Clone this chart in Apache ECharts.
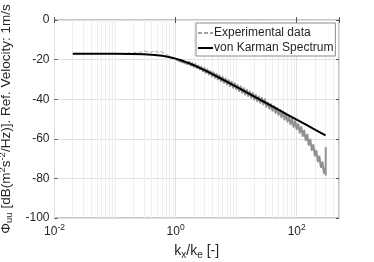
<!DOCTYPE html>
<html><head><meta charset="utf-8">
<script src="https://cdn.jsdelivr.net/npm/echarts@6/dist/echarts.min.js"></script>
<style>html,body{margin:0;padding:0;background:#fff}#c{width:374px;height:262px}</style>
</head><body><div id="c"></div>
<script>
// von Karman spectrum
const vkK = [0.02,0.05,0.1,0.2,0.3,0.4,0.5,0.6,0.7,0.8,0.9,1,1.1,1.2,1.3,1.5,2,2.5,3,4,5,7,10,20,30,50,70,100,150,200,300];
const vkDb = [-17.00,-17.01,-17.04,-17.14,-17.31,-17.54,-17.81,-18.11,-18.44,-18.79,-19.15,-19.51,-19.87,-20.23,-20.58,-21.27,-22.83,-24.17,-25.33,-27.25,-28.79,-31.16,-33.70,-38.69,-41.62,-45.32,-47.75,-50.33,-53.27,-55.35,-58.29];
// experimental data, low wavenumbers (visible dashed part)
const expLowK = [0.158,0.174,0.191,0.209,0.229,0.251,0.275,0.302,0.331,0.363,0.398,0.437,0.479,0.525,0.575,0.631,0.692,0.759,0.832,0.912,1.00];
const expLowDb = [-17.0,-16.6,-16.9,-16.5,-16.2,-16.6,-16.0,-15.6,-16.1,-15.8,-16.3,-15.5,-15.9,-16.4,-15.8,-16.6,-17.2,-17.9,-18.4,-19.2,-19.6];
// experimental data, high wavenumbers (dense noisy band)
const expHighK = [1.00,
1.06,1.12,1.19,1.26,1.33,1.41,1.50,1.58,1.68,1.78,1.88,2.00,2.11,2.24,2.37,2.51,2.66,2.82,2.99,3.16,
3.35,3.55,3.76,3.98,4.22,4.47,4.73,5.01,5.31,5.62,5.96,6.31,6.68,7.08,7.50,7.94,8.41,8.91,9.44,10.0,
10.6,11.2,11.9,12.6,13.3,14.1,15.0,15.8,16.8,17.8,18.8,20.0,21.1,22.4,23.7,25.1,26.6,28.2,29.9,31.6,
33.5,35.5,37.6,39.8,42.2,44.7,47.3,50.1,53.1,56.2,59.6,63.1,66.8,70.8,75.0,79.4,84.1,89.1,94.4,100,
106,112,119,126,133,141,150,158,168,178,188,200,211,224,237,251,266,282,299,301,302];
const expHighDb = [-19.6,
-19.1,-20.6,-19.7,-21.1,-20.1,-21.6,-20.6,-22.3,-21.1,-22.9,-21.8,-23.6,-22.3,-24.3,-23.0,-25.0,-23.6,-25.9,-24.3,-26.7,
-25.0,-27.5,-25.8,-28.4,-26.4,-29.2,-27.3,-30.0,-28.0,-30.9,-28.8,-31.7,-29.6,-32.5,-30.4,-33.4,-31.2,-34.2,-32.0,-35.0,
-32.9,-35.9,-33.6,-36.7,-34.5,-37.6,-35.3,-38.4,-36.1,-39.3,-36.9,-40.1,-37.8,-41.0,-38.6,-41.8,-39.4,-42.7,-40.1,-43.8,
-41.7,-44.8,-42.5,-45.8,-43.5,-46.9,-44.5,-47.9,-45.5,-49.1,-46.5,-50.3,-47.6,-51.4,-48.7,-52.7,-49.9,-54.0,-51.1,-55.2,
-52.5,-56.9,-54.0,-58.6,-55.8,-60.7,-57.9,-63.1,-60.4,-65.7,-63.1,-68.5,-66.0,-71.4,-68.9,-74.3,-71.8,-77.2,-74.5,-78.2,-64.3];
// axes
const xMin = 0.01, xMax = 500;
const yMin = -100, yMax = 0, yStep = 20;
const minorK = [0.02,0.03,0.04,0.05,0.06,0.07,0.08,0.09,0.1,0.2,0.3,0.4,0.5,0.6,0.7,0.8,0.9,
2,3,4,5,6,7,8,9,10,20,30,40,50,60,70,80,90,200,300,400];

const FONT = 'Liberation Sans, Arial, Helvetica, sans-serif';
const TXT = '#262626';
const EXP = '#909090';
const NONE = 'rgba(0,0,0,0)';
const chart = echarts.init(document.getElementById('c'), null, {renderer: 'canvas'});

function xFmt(v) {
  const l = Math.log10(v), e = Math.round(l);
  if (Math.abs(l - e) > 1e-6 || e % 2 !== 0) return '';
  return '10{sup|' + e + '}';
}

chart.setOption({
  animation: false,
  backgroundColor: '#fff',
  grid: {left: 54.5, right: 35, top: 20, bottom: 44, containLabel: false, outerBoundsMode: 'none',
    show: true, borderColor: '#8c8c8c', borderWidth: 1, backgroundColor: 'transparent'},
  legend: {
    orient: 'vertical', left: 196, top: 23,
    padding: [3, 2, 1, 1], itemGap: 1, itemWidth: 15, itemHeight: 12,
    borderColor: '#8c8c8c', borderWidth: 1, borderRadius: 0, backgroundColor: '#fff',
    itemStyle: {color: NONE, borderColor: NONE, borderWidth: 0, opacity: 0},
    textStyle: {fontSize: 12, lineHeight: 14, color: TXT, fontFamily: FONT, padding: [0, 0, 0, -4]},
    data: ['Experimental data', 'von Karman Spectrum']
  },
  xAxis: [{
    type: 'log', logBase: 10, min: xMin, max: xMax, interval: 2,
    name: 'k{sub|x}/k{sub|e} [-]', nameLocation: 'middle', nameGap: 25,
    nameTextStyle: {fontSize: 14, color: TXT, fontFamily: FONT,
      rich: {sub: {fontSize: 10, color: TXT, fontFamily: FONT, padding: [7, 0, 0, 0]}}},
    axisLine: {show: false},
    axisTick: {show: true, inside: true, length: 3, lineStyle: {color: '#555'}},
    axisLabel: {formatter: xFmt, fontSize: 12, color: TXT, fontFamily: FONT, margin: 5,
      rich: {sup: {fontSize: 8.5, color: TXT, fontFamily: FONT, padding: [0, 0, 8, 0]}}},
    splitLine: {show: true, lineStyle: {color: '#e0e0e0', width: 1}}
  }, {
    type: 'log', logBase: 10, min: xMin, max: xMax, interval: 2, position: 'top',
    axisLine: {show: false}, axisLabel: {show: false}, splitLine: {show: false},
    axisTick: {show: true, inside: true, length: 3, lineStyle: {color: '#555'}}
  }],
  yAxis: [{
    type: 'value', min: yMin, max: yMax, interval: yStep,
    name: '\u03A6{sub|uu} [dB(m{sup|2}s{sup|-2}/Hz)]. Ref. Velocity: 1m/s',
    nameLocation: 'middle', nameGap: 40,
    nameTextStyle: {fontSize: 13.5, color: TXT, fontFamily: FONT,
      rich: {sub: {fontSize: 9.5, color: TXT, fontFamily: FONT, padding: [7, 0, 0, 0]},
             sup: {fontSize: 9.5, color: TXT, fontFamily: FONT, padding: [0, 0, 7, 0]}}},
    axisLine: {show: false},
    axisTick: {show: true, inside: true, length: 3, lineStyle: {color: '#555'}},
    axisLabel: {fontSize: 12, color: TXT, fontFamily: FONT, margin: 5},
    splitLine: {show: true, lineStyle: {color: '#e0e0e0', width: 1}}
  }, {
    type: 'value', min: yMin, max: yMax, interval: yStep, position: 'right',
    axisLine: {show: false}, axisLabel: {show: false}, splitLine: {show: false},
    axisTick: {show: true, inside: true, length: 3, lineStyle: {color: '#555'}}
  }],
  series: [{
    name: 'minor-grid', type: 'line', data: [], z: 1, silent: true,
    markLine: {silent: true, z: 1, zlevel: 0, symbol: 'none', animation: false, label: {show: false},
      lineStyle: {color: '#eeeeee', width: 1, type: 'solid'},
      emphasis: {disabled: true},
      data: minorK.map(v => ({xAxis: v}))}
  }, {
    name: 'Experimental data', type: 'line', z: 2, symbol: 'none', showSymbol: false,
    data: expLowK.map((k, i) => [k, expLowDb[i]]),
    lineStyle: {color: '#a0a0a0', width: 1, type: [4, 2]},
    itemStyle: {color: '#a0a0a0'}
  }, {
    name: 'Experimental data', type: 'line', z: 2, symbol: 'none', showSymbol: false,
    data: expHighK.map((k, i) => [k, expHighDb[i]]),
    lineStyle: {color: EXP, width: 2, type: 'solid', join: 'round'},
    itemStyle: {color: EXP}
  }, {
    name: 'von Karman Spectrum', type: 'line', z: 3, symbol: 'none', showSymbol: false,
    data: vkK.map((k, i) => [k, vkDb[i]]),
    lineStyle: {color: '#000000', width: 2},
    itemStyle: {color: '#000000'}
  }]
});
</script>
</body></html>
